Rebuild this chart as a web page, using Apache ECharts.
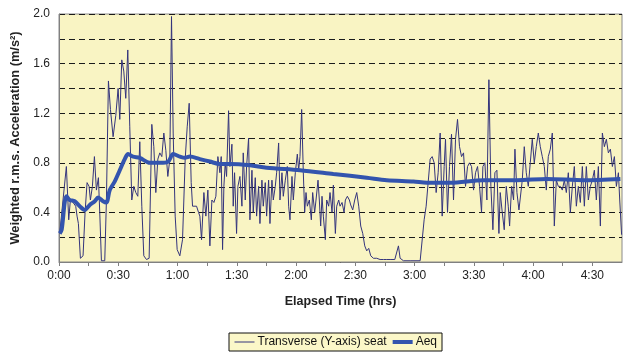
<!DOCTYPE html>
<html><head><meta charset="utf-8">
<script src="https://cdn.jsdelivr.net/npm/echarts@6/dist/echarts.min.js"></script>
<style>html,body{margin:0;padding:0;background:#fff}#c{width:623px;height:352px}</style>
</head><body><div id="c"></div>
<script>
// Elapsed time in minutes and weighted r.m.s. acceleration (m/s²)
var transMinutes = [0.35,2.04,3.73,4.92,5.76,7.11,8.46,9.14,9.82,10.83,12.18,13.2,14.21,15.22,15.9,16.91,17.93,18.94,19.95,20.63,21.47,23.16,24.01,25.02,26.04,27.39,28.74,29.92,30.77,31.78,32.79,33.8,34.82,35.83,36.85,37.86,38.88,39.89,40.9,41.92,42.93,44.28,45.63,46.98,48.0,49.01,50.03,51.04,52.05,53.07,54.08,55.09,56.11,56.95,57.8,58.81,59.82,61.17,62.53,63.88,64.9,65.91,66.92,67.6,68.61,69.63,70.64,
71.31,72.16,73.34,74.35,75.36,76.38,77.39,78.41,79.42,80.43,81.45,82.12,82.8,83.47,84.15,84.83,85.84,86.52,87.53,88.2,88.88,89.89,90.57,91.58,92.6,93.27,94.29,94.96,95.98,96.65,97.67,98.34,99.36,100.03,101.05,101.72,102.73,103.41,104.42,105.1,106.11,106.79,107.8,108.48,109.49,110.17,111.18,111.86,112.87,113.55,114.56,115.57,116.25,116.93,117.94,118.62,119.63,120.64,121.32,121.99,122.84,123.68,124.36,125.04,125.71,126.73,127.74,128.41,129.43,130.1,131.12,131.79,132.47,133.14,133.82,134.83,135.51,136.52,137.2,138.21,138.89,139.9,140.58,141.59,142.27,143.28,144.3,144.97,145.98,147.0,147.67,148.69,149.7,150.72,151.73,152.74,153.76,154.77,155.78,156.8,157.81,159.16,160.85,162.54,164.23,165.92,167.61,169.98,170.99,171.83,172.68,
174.37,177.75,182.82,183.83,184.84,185.86,186.87,187.89,188.9,189.91,190.93,191.94,192.95,193.97,194.98,195.66,196.67,197.68,198.7,199.71,200.73,201.74,202.75,203.77,204.78,205.79,206.81,207.82,208.84,209.85,210.86,211.88,212.89,213.9,214.58,215.59,216.61,217.62,218.63,219.65,220.66,221.67,222.69,223.36,224.38,225.39,226.41,227.42,228.1,229.11,230.12,230.8,231.81,232.83,233.5,234.52,235.53,236.54,237.56,238.57,239.58,240.6,241.61,242.63,243.64,244.65,245.67,246.68,247.69,248.71,249.72,250.74,251.75,252.76,253.78,254.79,255.8,256.82,257.83,258.85,259.86,260.87,261.89,262.9,263.91,264.93,265.94,266.95,267.97,268.98,269.99,271.01,272.02,273.04,274.05,275.06,276.08,277.09,278.11,279.12,280.13,281.15,282.16,283.18,283.85,284.8];
var transValues = [0.23,0.50,0.77,0.34,0.50,0.48,0.45,0.37,0.31,0.03,0.05,0.40,0.64,0.61,0.50,0.61,0.85,0.58,0.68,0.40,0.01,0.01,0.50,1.46,1.23,1.01,1.18,1.40,1.15,1.63,1.54,1.32,1.71,1.09,0.50,0.61,0.56,0.53,0.97,0.45,0.05,0.02,0.03,1.11,0.93,0.56,0.83,0.88,0.85,1.04,0.90,0.69,0.83,1.98,1.04,0.37,0.10,0.05,0.18,0.83,1.09,1.28,0.64,0.45,0.44,0.45,0.40,
0.37,0.18,0.56,0.37,0.58,0.13,0.50,0.48,0.53,0.85,0.72,0.85,0.10,0.61,0.80,0.69,1.22,0.77,0.95,0.45,0.72,0.23,0.61,0.69,0.45,0.88,0.50,0.77,1.00,0.34,0.74,0.40,0.68,0.37,0.61,0.31,0.66,0.45,0.64,0.37,0.66,0.31,0.66,0.50,0.61,0.72,0.96,0.50,0.72,0.53,0.66,0.77,0.45,0.34,0.69,0.50,0.72,0.87,0.74,0.85,1.23,0.72,0.40,0.56,0.45,0.50,0.34,0.56,0.40,0.50,0.66,0.50,0.29,0.53,0.37,0.18,0.50,0.45,0.56,0.40,0.62,0.23,0.45,0.50,0.45,0.48,0.40,0.50,0.53,0.50,0.46,0.42,0.50,0.56,0.45,0.29,0.23,0.13,0.09,0.11,0.05,0.03,0.03,0.02,0.02,0.02,0.02,0.02,0.03,0.13,0.03,
0.01,0.01,0.01,0.02,0.34,0.45,0.64,0.83,0.85,0.80,0.56,0.72,1.04,0.37,0.77,0.99,0.40,0.77,1.03,0.50,0.99,1.15,0.93,0.85,0.88,0.61,0.77,0.80,0.77,0.58,0.72,0.77,0.61,0.40,0.77,0.80,0.50,1.47,0.61,0.26,0.72,0.74,0.23,0.56,0.40,0.26,0.61,0.45,0.29,0.61,0.50,0.91,0.56,0.42,0.42,0.66,0.93,0.72,0.61,0.80,0.99,0.80,0.93,1.04,0.93,0.85,0.77,0.58,0.85,0.91,1.04,0.29,0.66,0.61,0.61,0.58,0.66,0.56,0.72,0.40,0.61,0.77,0.45,0.61,0.48,0.77,0.45,0.77,0.50,0.61,0.66,0.74,0.50,0.77,0.29,1.04,0.93,0.99,0.88,0.91,0.77,0.85,0.61,0.72,0.50,0.22];

var aeqMinutes = [0.35,1.36,2.88,3.73,5.42,7.95,10.49,13.02,15.56,18.09,19.78,22.31,24.0,25.69,28.23,30.76,33.29,34.98,37.52,40.9,45.97,51.04,55.26,57.79,61.17,63.71,66.24,71.31,76.38,81.45,86.52,96.65,105.1,121.99,138.89,155.78,165.92,179.44,186.2,198.02,214.92,231.81,247.02,265.6,284.19];
var aeqValues = [0.23,0.26,0.48,0.53,0.50,0.49,0.45,0.42,0.46,0.49,0.52,0.49,0.48,0.58,0.65,0.74,0.83,0.87,0.85,0.84,0.80,0.80,0.81,0.87,0.85,0.84,0.85,0.83,0.81,0.79,0.79,0.78,0.76,0.74,0.71,0.68,0.66,0.65,0.64,0.64,0.66,0.66,0.67,0.66,0.67];

var xTickLabels = ['0:00','0:30','1:00','1:30','2:00','2:30','3:00','3:30','4:00','4:30'];
var seriesNames = ['Transverse (Y-axis) seat','Aeq'];

function pairs(xs, ys){ return xs.map(function(x,i){ return [x, ys[i]]; }); }

var chart = echarts.init(document.getElementById('c'), null, {renderer:'canvas'});
var font = 'Liberation Sans, Arial, sans-serif';
chart.setOption({
  animation:false,
  textStyle:{fontFamily:font},
  grid:{left:59, right:1, top:14, bottom:90, show:true, backgroundColor:'#F9F4C3', borderColor:'#8a8a8a', borderWidth:1, containLabel:false},
  xAxis:{
    type:'value', min:0, max:285, interval:15,
    name:'Elapsed Time (hrs)', nameLocation:'middle', nameGap:33,
    nameTextStyle:{fontSize:12.5, fontWeight:'bold', color:'#222', fontFamily:font},
    axisLine:{lineStyle:{color:'#808080', width:1}},
    axisTick:{show:true, length:4, inside:false, lineStyle:{color:'#808080'}},
    axisLabel:{margin:8, fontSize:12, color:'#222', fontFamily:font, showMaxLabel:false,
      formatter:function(v){ if (v % 30 !== 0) return ''; var i = v/30; return xTickLabels[i] || ''; }},
    splitLine:{show:false}
  },
  yAxis:{
    type:'value', min:0, max:2, interval:0.2,
    name:'Weighted r.m.s. Acceleration (m/s²)', nameLocation:'middle', nameGap:33, nameRotate:90,
    nameTextStyle:{fontSize:12.8, fontWeight:'bold', color:'#222', fontFamily:font},
    axisLine:{show:true, lineStyle:{color:'#808080', width:1}},
    axisTick:{show:false},
    axisLabel:{margin:9, fontSize:12, color:'#222', fontFamily:font,
      formatter:function(v){ var k = Math.round(v*10); return (k % 4 === 0) ? (k/10).toFixed(1) : ''; }},
    splitLine:{show:true, lineStyle:{color:'#1a1a1a', width:1, type:[6,4]}}
  },
  legend:{
    bottom:1, left:229, orient:'horizontal',
    backgroundColor:'#FBF7C8', borderColor:'#111', borderWidth:1,
    padding:[3,5,3,5], itemGap:4, itemWidth:20, itemHeight:10,
    itemStyle:{opacity:0, color:'rgba(0,0,0,0)', borderColor:'rgba(0,0,0,0)', borderWidth:0},
    textStyle:{fontSize:12, color:'#111', fontFamily:font, padding:[0,0,0,-2]},
    data:[
      {name:seriesNames[0], lineStyle:{width:1, color:'#34347C'}},
      {name:seriesNames[1], lineStyle:{width:4, color:'#3354AE'}}
    ]
  },
  series:[
    {name:seriesNames[0], type:'line', data:pairs(transMinutes, transValues), symbol:'none', showSymbol:false,
     lineStyle:{color:'#34347C', width:1}, itemStyle:{color:'#34347C'}, z:2},
    {name:seriesNames[1], type:'line', data:pairs(aeqMinutes, aeqValues), symbol:'none', showSymbol:false, smooth:0.3,
     lineStyle:{color:'#3354AE', width:4}, itemStyle:{color:'#3354AE'}, z:3}
  ]
});
</script>
</body></html>
